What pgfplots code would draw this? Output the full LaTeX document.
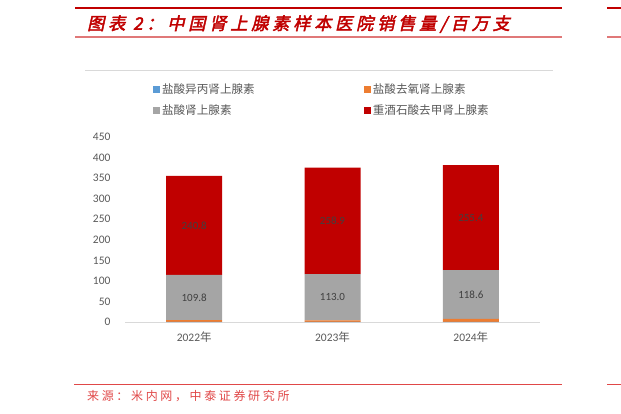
\documentclass[border=0pt]{standalone}
\usepackage{fontspec}
\setmainfont{Carlito}
\newfontfamily\cjk{Noto Sans CJK SC}
\newfontfamily\titlefont[FakeSlant=0.22,FakeBold=2.5,LetterSpace=22]{Noto Sans CJK SC}
\newfontfamily\srcfont[LetterSpace=22]{Noto Sans CJK SC}
\usepackage{pgfplots}
\usepackage{pgfplotstable}
\pgfplotsset{compat=1.18}
\definecolor{cblue}{HTML}{5B9BD5}
\definecolor{corange}{HTML}{ED7D31}
\definecolor{cgray}{HTML}{A5A5A5}
\definecolor{cred}{HTML}{C00000}
\definecolor{ctext}{HTML}{595959}
\definecolor{clab}{HTML}{404040}
\definecolor{cline}{HTML}{D9D9D9}
\definecolor{tred}{HTML}{C00000}
\definecolor{tred2}{HTML}{E07878}
\definecolor{tred3}{HTML}{E04848}

\pgfplotstableread{
x blue orange gray red
0 0.2 4.6 109.8 240.8
1 0.2 3.5 113.0 258.9
2 0.2 7.5 118.6 255.4
}\datatable

\pgfplotstableread{
x graymid graylab redmid redlab
0 59.7 109.8 235.0 240.8
1 60.2 113.0 246.2 258.9
2 67.0 118.6 254.0 255.4
}\labeltable

\begin{document}
\begin{tikzpicture}[x=1pt,y=1pt]
\useasboundingbox (0,0) rectangle (621,413);
% decorative rules
\draw[tred,line width=2pt] (75,405) -- (562,405);
\draw[tred,line width=2pt] (607,405) -- (621,405);
\draw[tred2,line width=1.6pt] (75,376) -- (562,376);
\draw[tred2,line width=1.6pt] (607,376) -- (621,376);
\node[anchor=west,inner sep=0,text=tred] at (87,389) {\titlefont\fontsize{17.2}{20}\selectfont 图表 2：中国肾上腺素样本医院销售量/百万支};
\draw[cline,line width=0.8pt] (85,342.3) -- (553,342.3);
\draw[tred3,line width=1pt] (74,28.7) -- (562,28.7);
\draw[tred3,line width=1pt] (607,28.7) -- (621,28.7);
\node[anchor=west,inner sep=0,text=tred3] at (87,17) {\srcfont\fontsize{12}{14}\selectfont 来源：米内网，中泰证券研究所};

\begin{axis}[
  at={(125pt,91pt)}, anchor=south west,
  scale only axis, width=415pt, height=185pt,
  ybar stacked, bar width=56pt,
  xmin=-0.5, xmax=2.5, ymin=0, ymax=450,
  ytick={0,50,...,450},
  xtick={0,1,2},
  xticklabels={2022{\cjk 年},2023{\cjk 年},2024{\cjk 年}},
  axis x line*=bottom, axis y line*=left,
  x axis line style={cline, line width=0.8pt, -},
  y axis line style={draw=none},
  major tick length=0pt,
  tick label style={text=ctext, font=\fontsize{11.5}{13}\selectfont},
  /pgf/number format/assume math mode=true,
  yticklabel style={xshift=-11pt},
  xticklabel style={yshift=-6pt},
  legend columns=2,
  legend cell align=left,
  legend style={draw=none, fill=none, at={(0.067,1.30)}, anchor=north west,
    font=\cjk\fontsize{11.6}{13}\selectfont, text=ctext,
    inner xsep=0pt, inner ysep=0pt,
    /tikz/every even column/.append style={column sep=107pt},
    /tikz/row sep=6pt},
  legend image code/.code={\draw[#1,draw=none] (0pt,-3.5pt) rectangle (7pt,3.5pt);},
  clip=false,
]
\addplot[fill=cblue, draw=none] table[x=x,y=blue] {\datatable};
\addlegendentry{盐酸异丙肾上腺素}
\addplot[fill=corange, draw=none] table[x=x,y=orange] {\datatable};
\addlegendentry{盐酸去氧肾上腺素}
\addplot[fill=cgray, draw=none] table[x=x,y=gray] {\datatable};
\addlegendentry{盐酸肾上腺素}
\addplot[fill=cred, draw=none] table[x=x,y=red] {\datatable};
\addlegendentry{重酒石酸去甲肾上腺素}
\end{axis}

\begin{axis}[
  at={(125pt,91pt)}, anchor=south west,
  scale only axis, width=415pt, height=185pt,
  xmin=-0.5, xmax=2.5, ymin=0, ymax=450,
  hide axis, clip=false,
  nodes near coords style={anchor=center, text=clab, font=\fontsize{11}{13}\selectfont, inner sep=0pt},
]
\addplot[draw=none, mark=none, nodes near coords, point meta=explicit symbolic]
  table[x=x,y=graymid,meta=graylab] {\labeltable};
\addplot[draw=none, mark=none, nodes near coords, point meta=explicit symbolic]
  table[x=x,y=redmid,meta=redlab] {\labeltable};
\end{axis}
\end{tikzpicture}
\end{document}
